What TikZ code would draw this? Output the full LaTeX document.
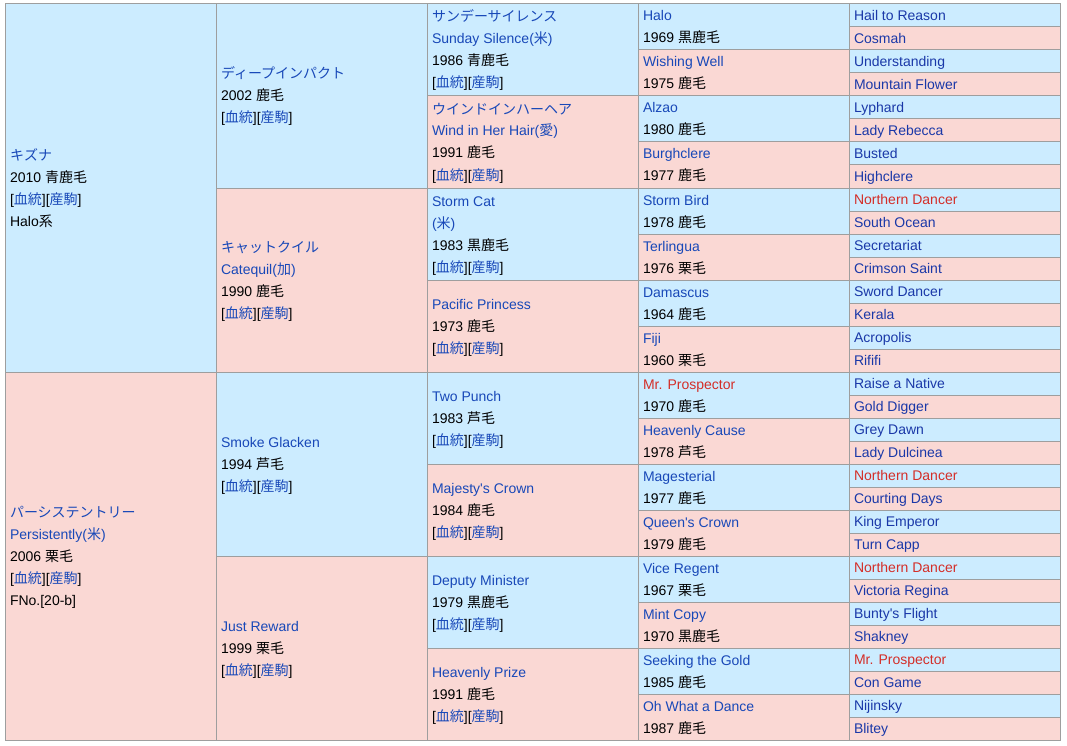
\documentclass[tikz,border=0pt]{standalone}
\usepackage{fontspec}
\setmainfont{Liberation Sans}
\newfontfamily\jpfont{Noto Sans CJK JP}
\definecolor{cblue}{RGB}{204,236,255}
\definecolor{cpink}{RGB}{250,216,212}
\definecolor{gridc}{RGB}{158,158,158}
\definecolor{lnk}{RGB}{24,72,184}
\definecolor{lnkd}{RGB}{26,56,168}
\definecolor{rlnk}{RGB}{212,46,40}
\newcommand\J[1]{{\jpfont #1}}
\newcommand\Nm[1]{\textcolor{lnk}{#1}}
\newcommand\Rd[1]{\textcolor{rlnk}{#1}}
\newcommand\Br{[\textcolor{lnk}{\J{血統}}][\textcolor{lnk}{\J{産駒}}]}
\newcommand\Ln[1]{\rule[-6pt]{0pt}{22pt}#1}
\newcommand\Ap{\textquotesingle}
\pgfdeclarelayer{bg}
\pgfsetlayers{bg,main}
\tikzset{
  gridline/.style={draw=gridc, line width=1pt},
  txt/.style={anchor=west, inner sep=0pt, outer sep=0pt, align=left,
    font=\fontsize{14}{22}\selectfont},
}
\newcommand\pcell[6]{%
  \begin{pgfonlayer}{bg}
    \fill[fill=#5] ({5+211*(#2)},{4+23*(#3)}) rectangle ({5+211*(#2+1)},{4+23*(#3+#4)});
  \end{pgfonlayer}
  \draw[gridline] ({5+211*(#2)},{4+23*(#3)}) rectangle ({5+211*(#2+1)},{4+23*(#3+#4)});
  \node[txt] (#1) at ({10+211*(#2)},{4+23*(#3+#4/2)}) {#6};
}
\begin{document}
\begin{tikzpicture}[x=1pt,y=-1pt]
\useasboundingbox (0,0) rectangle (1067,746);
\begin{pgfonlayer}{bg}
\fill[white] (0,0) rectangle (1067,746);
\end{pgfonlayer}
% generation 1
\pcell{g1-0}{0}{0}{16}{cblue}{\Ln{\Nm{\J{キズナ}}}\\\Ln{2010 \J{青鹿毛}}\\\Ln{\Br}\\\Ln{Halo\J{系}}}
\pcell{g1-1}{0}{16}{16}{cpink}{\Ln{\Nm{\J{パーシステントリー}}}\\\Ln{\Nm{Persistently(\J{米})}}\\\Ln{2006 \J{栗毛}}\\\Ln{\Br}\\\Ln{FNo.[20-b]}}
% generation 2
\pcell{g2-0}{1}{0}{8}{cblue}{\Ln{\Nm{\J{ディープインパクト}}}\\\Ln{2002 \J{鹿毛}}\\\Ln{\Br}}
\pcell{g2-1}{1}{8}{8}{cpink}{\Ln{\Nm{\J{キャットクイル}}}\\\Ln{\Nm{Catequil(\J{加})}}\\\Ln{1990 \J{鹿毛}}\\\Ln{\Br}}
\pcell{g2-2}{1}{16}{8}{cblue}{\Ln{\Nm{Smoke Glacken}}\\\Ln{1994 \J{芦毛}}\\\Ln{\Br}}
\pcell{g2-3}{1}{24}{8}{cpink}{\Ln{\Nm{Just Reward}}\\\Ln{1999 \J{栗毛}}\\\Ln{\Br}}
% generation 3
\pcell{g3-0}{2}{0}{4}{cblue}{\Ln{\Nm{\J{サンデーサイレンス}}}\\\Ln{\Nm{Sunday Silence(\J{米})}}\\\Ln{1986 \J{青鹿毛}}\\\Ln{\Br}}
\pcell{g3-1}{2}{4}{4}{cpink}{\Ln{\Nm{\J{ウインドインハーヘア}}}\\\Ln{\Nm{Wind in Her Hair(\J{愛})}}\\\Ln{1991 \J{鹿毛}}\\\Ln{\Br}}
\pcell{g3-2}{2}{8}{4}{cblue}{\Ln{\Nm{Storm Cat}}\\\Ln{\Nm{(\J{米})}}\\\Ln{1983 \J{黒鹿毛}}\\\Ln{\Br}}
\pcell{g3-3}{2}{12}{4}{cpink}{\Ln{\Nm{Pacific Princess}}\\\Ln{1973 \J{鹿毛}}\\\Ln{\Br}}
\pcell{g3-4}{2}{16}{4}{cblue}{\Ln{\Nm{Two Punch}}\\\Ln{1983 \J{芦毛}}\\\Ln{\Br}}
\pcell{g3-5}{2}{20}{4}{cpink}{\Ln{\Nm{Majesty\Ap s Crown}}\\\Ln{1984 \J{鹿毛}}\\\Ln{\Br}}
\pcell{g3-6}{2}{24}{4}{cblue}{\Ln{\Nm{Deputy Minister}}\\\Ln{1979 \J{黒鹿毛}}\\\Ln{\Br}}
\pcell{g3-7}{2}{28}{4}{cpink}{\Ln{\Nm{Heavenly Prize}}\\\Ln{1991 \J{鹿毛}}\\\Ln{\Br}}
% generation 4
\foreach \hn/\hy [count=\i from 0] in {
  {Halo}/{1969 \J{黒鹿毛}}, {Wishing Well}/{1975 \J{鹿毛}},
  {Alzao}/{1980 \J{鹿毛}}, {Burghclere}/{1977 \J{鹿毛}},
  {Storm Bird}/{1978 \J{鹿毛}}, {Terlingua}/{1976 \J{栗毛}},
  {Damascus}/{1964 \J{鹿毛}}, {Fiji}/{1960 \J{栗毛}},
  {\Rd{Mr. Prospector}}/{1970 \J{鹿毛}}, {Heavenly Cause}/{1978 \J{芦毛}},
  {Magesterial}/{1977 \J{鹿毛}}, {Queen\Ap s Crown}/{1979 \J{鹿毛}},
  {Vice Regent}/{1967 \J{栗毛}}, {Mint Copy}/{1970 \J{黒鹿毛}},
  {Seeking the Gold}/{1985 \J{鹿毛}}, {Oh What a Dance}/{1987 \J{鹿毛}}}{
  \ifodd\i \def\cc{cpink}\else\def\cc{cblue}\fi
  \pcell{g4-\i}{3}{2*\i}{2}{\cc}{\Ln{\Nm{\hn}}\\\Ln{\hy}}
}
% generation 5
\foreach \hn [count=\i from 0] in {
  {Hail to Reason}, {Cosmah}, {Understanding}, {Mountain Flower},
  {Lyphard}, {Lady Rebecca}, {Busted}, {Highclere},
  {\Rd{Northern Dancer}}, {South Ocean}, {Secretariat}, {Crimson Saint},
  {Sword Dancer}, {Kerala}, {Acropolis}, {Rififi},
  {Raise a Native}, {Gold Digger}, {Grey Dawn}, {Lady Dulcinea},
  {\Rd{Northern Dancer}}, {Courting Days}, {King Emperor}, {Turn Capp},
  {\Rd{Northern Dancer}}, {Victoria Regina}, {Bunty\Ap s Flight}, {Shakney},
  {\Rd{Mr. Prospector}}, {Con Game}, {Nijinsky}, {Blitey}}{
  \ifodd\i \def\cc{cpink}\else\def\cc{cblue}\fi
  \pcell{g5-\i}{4}{\i}{1}{\cc}{\Ln{\textcolor{lnkd}{\hn}}}
}
\end{tikzpicture}
\end{document}
